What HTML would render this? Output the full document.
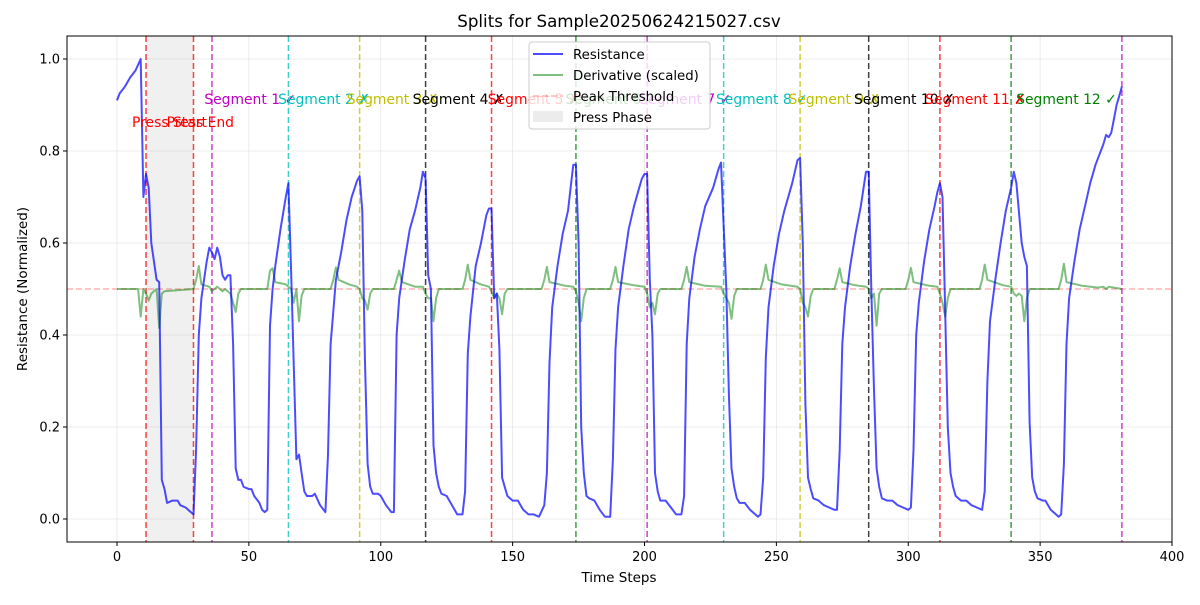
<!DOCTYPE html>
<html><head><meta charset="utf-8"><style>
body{margin:0;background:#fff}
svg text{font-family:"DejaVu Sans","Liberation Sans",sans-serif}
</style></head><body>
<svg id="chart" width="1200" height="600" xmlns="http://www.w3.org/2000/svg">
<g id="grid"></g>
<g id="shade"></g>
<g id="vlines"></g>
<g id="series"></g>
<g id="labels"></g>
<g id="axes"></g>
<text x="619" y="27" font-size="16.7" text-anchor="middle">Splits for Sample20250624215027.csv</text>
<text x="619" y="582" font-size="13.5" text-anchor="middle">Time Steps</text>
<text x="27" y="289" font-size="13.5" text-anchor="middle" transform="rotate(-90 27 289)">Resistance (Normalized)</text>
<g>
<rect x="529" y="42" width="181" height="87" rx="3" fill="#fff" fill-opacity="0.8" stroke="#ccc"/>
<line x1="533" y1="54" x2="563" y2="54" stroke="#0000ff" stroke-opacity="0.7" stroke-width="2"/>
<text x="573" y="59" font-size="13.3">Resistance</text>
<line x1="533" y1="75" x2="563" y2="75" stroke="#008000" stroke-opacity="0.5" stroke-width="2"/>
<text x="573" y="80" font-size="13.3">Derivative (scaled)</text>
<line x1="533" y1="96" x2="563" y2="96" stroke="#ff0000" stroke-opacity="0.3" stroke-width="1.5" stroke-dasharray="6,3"/>
<text x="573" y="101" font-size="13.3">Peak Threshold</text>
<rect x="533" y="111" width="30" height="11" fill="#808080" fill-opacity="0.15"/>
<text x="573" y="122" font-size="13.3">Press Phase</text>
</g>
</svg>
<script>
const resT=[0,1,3,5,7,9,10,11,12,13,15,16,17,18,19,21,23,24,26,28,29,30,31,32,34,35,36,37,38,39,40,41,42,43,44,45,46,47,48,50,51,52,54,55,56,57,58,59,60,62,64,65,66,68,69,70,71,72,74,75,77,79,80,81,83,85,87,89,91,92,93,94,95,96,97,99,100,102,104,105,106,107,109,111,113,115,116,117,118,119,120,121,122,123,125,127,129,131,132,133,134,136,138,140,141,142,143,144,145,146,147,148,150,152,154,156,158,160,162,163,164,165,167,169,171,172,173,174,175,176,177,178,179,181,183,185,187,188,189,190,192,194,196,198,199,200,201,202,203,204,205,206,208,210,212,214,215,216,217,219,221,223,226,228,229,230,231,232,233,234,235,236,238,240,242,243,244,245,246,247,249,251,253,256,258,259,260,261,262,263,264,266,268,270,272,273,274,275,276,278,280,282,284,285,286,287,288,289,290,292,294,296,298,300,301,302,303,304,306,308,310,311,312,313,314,315,316,317,318,320,322,324,326,328,329,330,331,333,335,337,339,340,341,343,344,345,346,347,348,349,351,352,354,356,357,358,359,360,361,363,365,367,369,371,373,374,375,376,377,378,379,380,381];
const resV=[0.91,0.925,0.94,0.96,0.975,1.0,0.70,0.75,0.72,0.60,0.52,0.515,0.085,0.065,0.035,0.04,0.04,0.03,0.025,0.015,0.01,0.15,0.40,0.48,0.56,0.59,0.58,0.565,0.59,0.57,0.53,0.52,0.53,0.53,0.38,0.11,0.085,0.085,0.07,0.065,0.065,0.05,0.035,0.02,0.015,0.02,0.42,0.50,0.55,0.63,0.70,0.73,0.54,0.13,0.14,0.10,0.06,0.05,0.05,0.055,0.03,0.015,0.14,0.38,0.52,0.58,0.65,0.70,0.735,0.745,0.67,0.35,0.12,0.07,0.055,0.055,0.05,0.03,0.015,0.015,0.40,0.48,0.56,0.63,0.67,0.72,0.755,0.74,0.53,0.50,0.16,0.10,0.07,0.055,0.05,0.03,0.01,0.01,0.06,0.36,0.44,0.55,0.60,0.66,0.675,0.675,0.48,0.49,0.37,0.09,0.07,0.05,0.04,0.04,0.02,0.01,0.01,0.005,0.03,0.10,0.34,0.46,0.55,0.62,0.67,0.72,0.77,0.77,0.60,0.20,0.10,0.05,0.045,0.04,0.02,0.005,0.005,0.13,0.37,0.46,0.55,0.63,0.68,0.72,0.74,0.75,0.75,0.52,0.40,0.10,0.06,0.04,0.04,0.025,0.01,0.01,0.05,0.38,0.48,0.57,0.63,0.68,0.72,0.76,0.775,0.64,0.50,0.27,0.11,0.07,0.045,0.035,0.035,0.02,0.01,0.005,0.01,0.09,0.35,0.46,0.55,0.62,0.67,0.73,0.78,0.785,0.60,0.25,0.09,0.065,0.045,0.04,0.03,0.025,0.02,0.02,0.15,0.38,0.46,0.55,0.62,0.68,0.755,0.755,0.50,0.28,0.11,0.07,0.045,0.04,0.04,0.03,0.025,0.02,0.025,0.15,0.40,0.47,0.56,0.63,0.68,0.71,0.73,0.70,0.45,0.20,0.10,0.07,0.05,0.04,0.04,0.03,0.025,0.02,0.06,0.30,0.43,0.52,0.60,0.67,0.72,0.755,0.73,0.60,0.57,0.55,0.21,0.09,0.06,0.045,0.04,0.04,0.02,0.01,0.005,0.01,0.12,0.38,0.48,0.56,0.63,0.68,0.73,0.77,0.80,0.815,0.835,0.83,0.84,0.87,0.90,0.92,0.94];
const derT=[0,8,9,10,11,12,13,15,16,17,18,29,30,31,32,35,36,38,40,41,43,44,45,46,47,57,58,59,60,64,65,66,67,68,69,70,71,81,82,83,84,88,91,92,93,94,95,96,97,105,106,107,108,113,116,117,118,119,120,121,122,131,132,133,134,138,141,142,143,144,145,146,147,148,161,162,163,164,170,173,174,175,176,177,178,187,188,189,190,196,200,201,202,203,204,205,206,214,215,216,217,223,229,230,231,232,233,234,235,244,245,246,247,252,258,259,260,261,262,263,264,272,273,274,275,280,284,285,286,287,288,289,290,299,300,301,302,308,311,312,313,314,315,316,327,328,329,330,336,339,340,341,342,343,344,345,346,357,358,359,360,366,372,374,375,376,381];
const derV=[.50,.50,.44,.50,.49,.475,.49,.50,.415,.49,.495,.50,.52,.55,.51,.505,.495,.505,.495,.50,.49,.47,.45,.49,.50,.50,.54,.545,.515,.51,.505,.50,.47,.50,.43,.485,.50,.50,.52,.547,.52,.51,.505,.50,.48,.475,.455,.49,.50,.50,.52,.54,.515,.505,.505,.49,.48,.48,.43,.48,.50,.50,.52,.553,.52,.51,.505,.495,.48,.49,.48,.445,.49,.50,.50,.52,.548,.515,.507,.505,.495,.47,.43,.48,.50,.50,.52,.548,.515,.508,.505,.49,.46,.47,.445,.49,.50,.50,.52,.548,.515,.507,.505,.49,.48,.47,.435,.485,.50,.50,.52,.553,.52,.51,.505,.50,.47,.46,.44,.485,.50,.50,.52,.545,.515,.508,.505,.50,.48,.49,.42,.49,.50,.50,.52,.546,.515,.507,.505,.49,.47,.44,.48,.50,.50,.52,.553,.52,.508,.505,.49,.485,.49,.485,.43,.48,.50,.50,.52,.555,.515,.507,.503,.505,.50,.505,.50];
const splitT=[36,65,92,117,142,174,201,230,259,285,312,339,381];
const splitColors=["#bf00bf","#00bfbf","#bfbf00","#000000","#ff0000","#008000","#bf00bf","#00bfbf","#bfbf00","#000000","#ff0000","#008000","#bf00bf"];
const segMarks=["✓","✗","✗","✗","✗","✓","✓","✓","✗","✗","✗","✓"];
const pressT=[11,29];
const threshold=0.5;
const xTicks=[0,50,100,150,200,250,300,350,400];
const yTicks=[0.0,0.2,0.4,0.6,0.8,1.0];

const NS="http://www.w3.org/2000/svg";
const X0=67,X1=1172,Y0=542,Y1=36;
const xs=t=>117+(t-0)*(1172-117)/400;
const ys=v=>519-v*460;
function mk(tag,attrs,parent){const e=document.createElementNS(NS,tag);for(const k in attrs)e.setAttribute(k,attrs[k]);parent.appendChild(e);return e;}
const grid=document.getElementById('grid'),shade=document.getElementById('shade'),vl=document.getElementById('vlines'),ser=document.getElementById('series'),lab=document.getElementById('labels'),ax=document.getElementById('axes');

xTicks.forEach(t=>{
  const g=mk('line',{x1:xs(t),x2:xs(t),y1:Y1,y2:Y0,stroke:'#e6e6e6','stroke-width':0.8},grid);
  
  
  const tk=mk('line',{x1:xs(t),x2:xs(t),y1:Y0,y2:Y0+4,stroke:'#000'},ax);
  
  
  const tx=mk('text',{x:xs(t),y:Y0+19,'font-size':13,'text-anchor':'middle'},ax);tx.textContent=t;
  
  
});
yTicks.forEach(v=>{
  const g=mk('line',{x1:X0,x2:X1,y1:ys(v),y2:ys(v),stroke:'#e6e6e6','stroke-width':0.8},grid);
  
  
  const tk=mk('line',{x1:X0-4,x2:X0,y1:ys(v),y2:ys(v),stroke:'#000'},ax);
  
  
  const tx=mk('text',{x:X0-7,y:ys(v)+4.5,'font-size':13,'text-anchor':'end'},ax);tx.textContent=v.toFixed(1);
  
  
});
const fr=mk('rect',{x:X0,y:Y1,width:X1-X0,height:Y0-Y1,fill:'none',stroke:'#000','stroke-width':1},ax);



const pr=mk('rect',{x:xs(pressT[0]),y:Y1,width:xs(pressT[1])-xs(pressT[0]),height:Y0-Y1,fill:'#808080','fill-opacity':0.12},shade);



const th=mk('line',{x1:X0,x2:X1,y1:ys(threshold),y2:ys(threshold),stroke:'#ff0000','stroke-opacity':0.3,'stroke-width':1.5,'stroke-dasharray':'6,3'},vl);



pressT.forEach((t,i)=>{
  const l=mk('line',{x1:xs(t),x2:xs(t),y1:Y1,y2:Y0,stroke:'#ff0000','stroke-opacity':0.75,'stroke-width':1.5,'stroke-dasharray':'6,3'},vl);
  
  
});
splitT.forEach((t,i)=>{
  const l=mk('line',{x1:xs(t),x2:xs(t),y1:Y1,y2:Y0,stroke:splitColors[i],'stroke-opacity':0.75,'stroke-width':1.5,'stroke-dasharray':'6,3'},vl);
  
  
});

function poly(T,V,color,op,w,name){
  const pts=T.map((t,i)=>xs(t).toFixed(1)+','+ys(V[i]).toFixed(1)).join(' ');
  const p=mk('polyline',{points:pts,fill:'none',stroke:color,'stroke-opacity':op,'stroke-width':w,'stroke-linejoin':'round'},ser);
  
  
}
poly(derT,derV,'#008000',0.5,2,'derivative-line');
poly(resT,resV,'#0000ff',0.7,2,'resistance-line');

for(let i=0;i<segMarks.length;i++){
  const mid=(splitT[i]+splitT[i+1])/2;
  const tx=mk('text',{x:xs(mid),y:104,'font-size':13.9,'text-anchor':'middle',fill:splitColors[i]},lab);
  tx.textContent='Segment '+(i+1)+' '+segMarks[i];
  
  
}
const ps=mk('text',{x:132,y:127,'font-size':13.9,fill:'#ff0000'},lab);ps.textContent='Press Start';


const pe=mk('text',{x:234,y:127,'font-size':13.9,fill:'#ff0000','text-anchor':'end'},lab);pe.textContent='Press End';


</script>
</body></html>
